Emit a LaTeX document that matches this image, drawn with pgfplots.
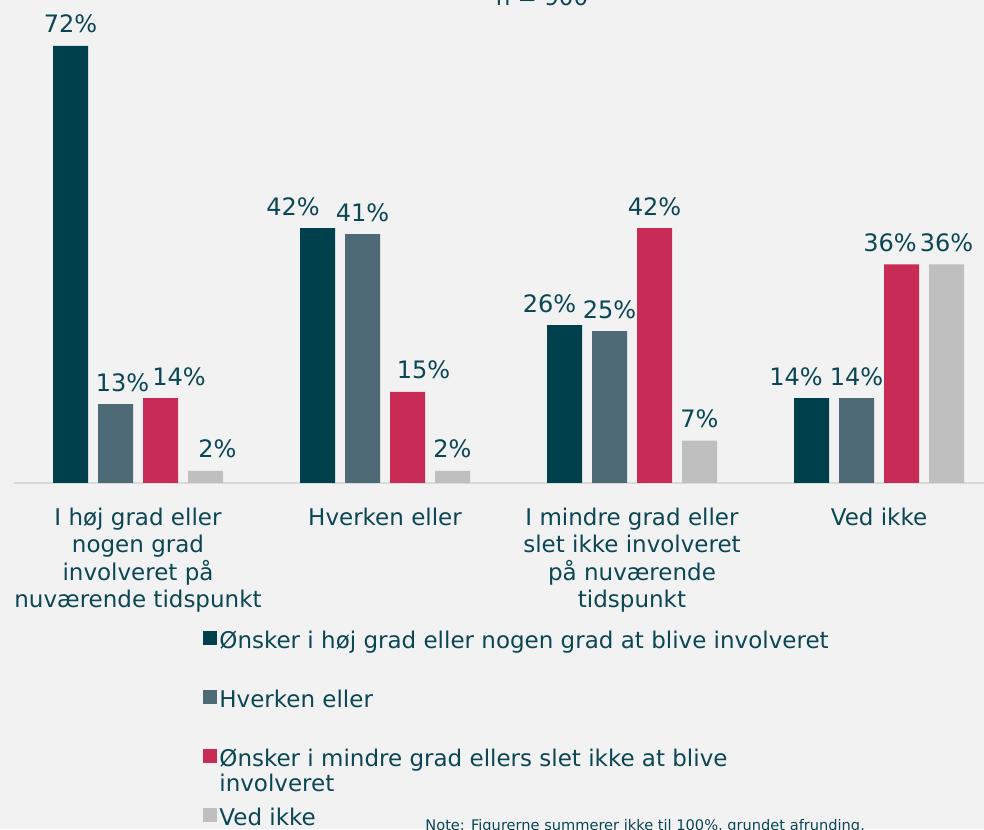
\documentclass[border=0pt]{standalone}
\usepackage{pgfplots}
\usepackage{pgfplotstable}
\pgfplotsset{compat=1.18}
\usepackage{fontspec}
\setmainfont{DejaVu Sans}
\definecolor{cdark}{HTML}{00404D}
\definecolor{cslate}{HTML}{4E6A76}
\definecolor{cred}{HTML}{C82B55}
\definecolor{cgray}{HTML}{BFBFBF}
\definecolor{cbg}{HTML}{F2F2F2}
\definecolor{ctext}{HTML}{0B4655}
\definecolor{cline}{HTML}{D9D9D9}
% x = group, y = percent, dx = label offset (pt)
\pgfplotstableread{
x y dx
0 72 0
1 42 -12.25
2 26 -7.5
3 14 -7.75
}\tA
\pgfplotstableread{
x y dx
0 13 3.5
1 41 0
2 25 0
3 14 0
}\tB
\pgfplotstableread{
x y dx
0 14 9.25
1 15 8
2 42 0
3 36 -5.75
}\tC
\pgfplotstableread{
x y dx
0 2 6
1 2 0
2 7 0
3 36 0
}\tD
\begin{document}
\begin{tikzpicture}
\fill[cbg] (0,0) rectangle (492pt,414.5pt);
\path[use as bounding box] (0,0) rectangle (492pt,414.5pt);
\node[anchor=base, text=ctext, font=\fontsize{11.5}{13}\selectfont] at (271pt,411.5pt) {n = 900};
\begin{axis}[
  at={(69pt,173pt)}, anchor=origin,
  x=123.5pt, y=3.035pt,
  xmin=-0.502, xmax=3.5, ymin=0, ymax=80,
  ybar=5pt, bar width=17.5pt,
  axis x line*=bottom, axis y line=none,
  x axis line style={cline, line width=1pt, -},
  xtick={0,1,2,3}, major tick length=0pt,
  xticklabels={
    {I høj grad eller\\nogen grad\\involveret på\\nuværende tidspunkt},
    {Hverken eller},
    {I mindre grad eller\\slet ikke involveret\\på nuværende\\tidspunkt},
    {Ved ikke}},
  xticklabel style={align=center, anchor=north, inner sep=0pt, yshift=-12.3pt,
    text=ctext, font=\fontsize{11.5}{13.75}\selectfont},
  clip=false,
  /pgf/number format/assume math mode=true,
  every axis plot/.append style={draw=none},
  visualization depends on={\thisrow{dx} \as \lblshift},
  nodes near coords={\pgfmathprintnumber{\pgfplotspointmeta}\%},
  nodes near coords style={anchor=base, yshift=6.5pt, xshift=\lblshift pt,
    inner sep=0pt, text=ctext, font=\fontsize{12}{13}\selectfont},
  legend image code/.code={\fill[#1] (0pt,-1.5pt) rectangle (7pt,5.5pt);},
  legend cell align=left,
  legend style={at={(axis description cs:0.1912,-0.3027)}, anchor=north west,
    draw=none, fill=none, inner sep=0pt, row sep=17.5pt,
    font=\fontsize{11.5}{12.5}\selectfont, text=ctext,
    nodes={inner sep=1pt, text height=8pt, text depth=2pt},
    cells={anchor=west}},
]
\addplot[fill=cdark] table[x=x, y=y] {\tA};
\addplot[fill=cslate] table[x=x, y=y] {\tB};
\addplot[fill=cred] table[x=x, y=y] {\tC};
\addplot[fill=cgray] table[x=x, y=y] {\tD};
\addlegendentry{Ønsker i høj grad eller nogen grad at blive involveret}
\addlegendentry{Hverken eller}
\addlegendentry{\raisebox{0pt}[\height][0pt]{\begin{tabular}[t]{@{}l@{}}Ønsker i mindre grad ellers slet ikke at blive\\involveret\end{tabular}}}
\addlegendentry{Ved ikke}
\end{axis}
\node[anchor=base west, inner sep=0pt, text=ctext, font=\fontsize{7.3}{8}\selectfont] at (212.5pt,-0.5pt) {Note: Figurerne summerer ikke til 100\%, grundet afrunding.};
\end{tikzpicture}
\end{document}
